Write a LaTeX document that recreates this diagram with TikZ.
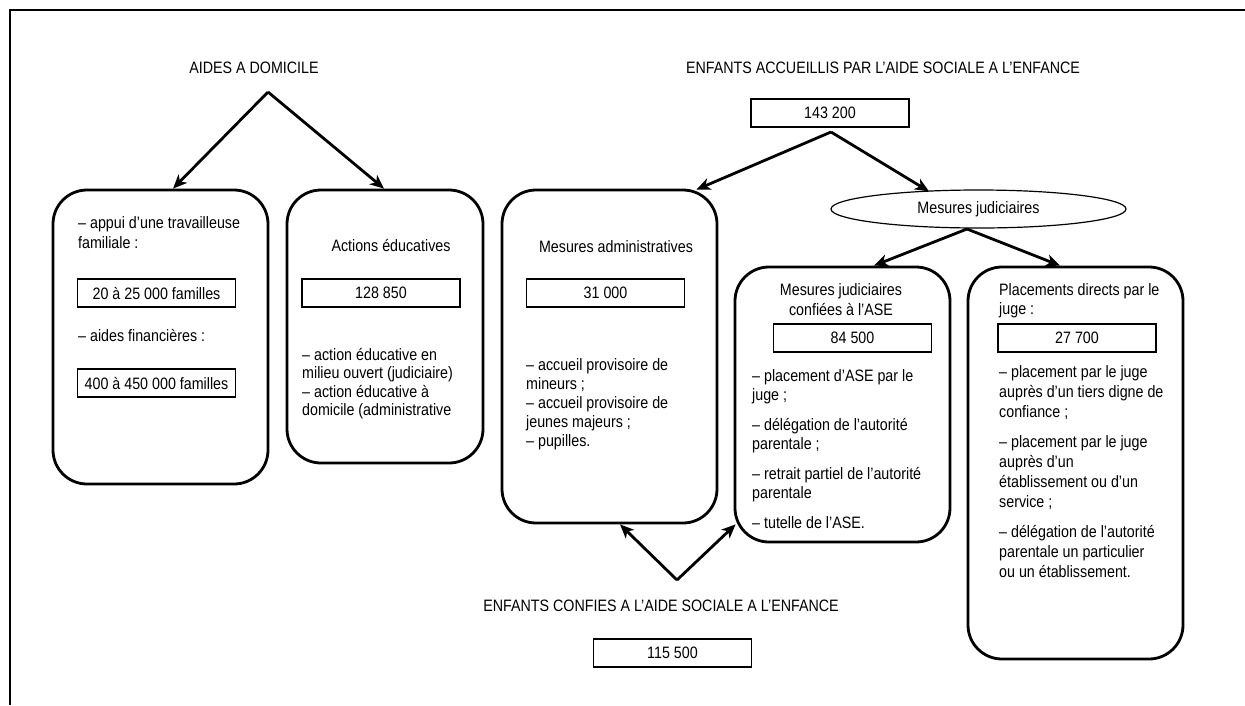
\documentclass[tikz,border=0pt]{standalone}
\usepackage{fontspec}
\setmainfont{Liberation Sans}[FakeStretch=0.865]
\usetikzlibrary{arrows.meta,calc,shapes.geometric}
\begin{document}
\begin{tikzpicture}[x=1pt,y=-1pt,
  txt/.style={inner sep=0pt, font=\fontsize{16.5}{19}\selectfont},
  lft/.style={txt, anchor=base west},
  ctr/.style={txt, anchor=base},
  bigbox/.style={draw, line width=2.8pt, rounded corners=34pt, inner sep=0pt},
  numbox/.style={draw, line width=1.6pt, inner sep=0pt, minimum width=158pt, minimum height=28pt, font=\fontsize{16.5}{19}\selectfont},
  arr/.style={line width=2.8pt, -{Stealth[length=14pt,width=12pt,inset=4pt]}},
]
\useasboundingbox (0,0) rectangle (1245,705);
\draw[line width=2pt] (10,705) -- (10,10) -- (1245,10);

% titles
\node[ctr] (tA) at (254,73) {AIDES A DOMICILE};
\node[ctr] (tB) at (883,73) {ENFANTS ACCUEILLIS PAR L’AIDE SOCIALE A L’ENFANCE};
\node[ctr] (tC) at (661,611) {ENFANTS CONFIES A L’AIDE SOCIALE A L’ENFANCE};
\node[numbox] (n143) at (830,113) {143 200};
\node[numbox] (n115) at (672.5,653) {115 500};

% big boxes
\node[bigbox, minimum width=215pt, minimum height=294pt] (b1) at (160.5,337) {};
\node[bigbox, minimum width=196pt, minimum height=273pt] (b2) at (385,326.5) {};
\node[bigbox, minimum width=215pt, minimum height=333pt] (b3) at (609.5,356.5) {};
\node[bigbox, minimum width=215pt, minimum height=275pt] (b4) at (842.5,404.5) {};
\node[bigbox, minimum width=215pt, minimum height=392pt] (b5) at (1075.5,463) {};
\node[draw, ellipse, line width=1.2pt, minimum width=295pt, minimum height=38pt, txt] (mj) at (978.5,209) {Mesures judiciaires};

% box 1
\node[lft] (b1l1) at (78,228) {– appui d’une travailleuse};
\node[lft] (b1l2) at (78,248) {familiale :};
\node[numbox] (b1n1) at (156.5,293) {20 à 25 000 familles};
\node[lft] (b1l3) at (78,341.5) {– aides financières :};
\node[numbox] (b1n2) at (156.5,383) {400 à 450 000 familles};

% box 2
\node[ctr] (b2t) at (391,251) {Actions éducatives};
\node[numbox] (b2n) at (381,293) {128 850};
\node[lft] (b2l1) at (302,360) {– action éducative en};
\node[lft] (b2l2) at (302,378.5) {milieu ouvert (judiciaire)};
\node[lft] (b2l3) at (302,397) {– action éducative à};
\node[lft] (b2l4) at (302,415.5) {domicile (administrative};

% box 3
\node[ctr] (b3t) at (616,252) {Mesures administratives};
\node[numbox] (b3n) at (605.5,293) {31 000};
\node[lft] (b3l1) at (526,370) {– accueil provisoire de};
\node[lft] (b3l2) at (526,389) {mineurs ;};
\node[lft] (b3l3) at (526,408) {– accueil provisoire de};
\node[lft] (b3l4) at (526,427) {jeunes majeurs ;};
\node[lft] (b3l5) at (526,446) {– pupilles.};

% box 4
\node[ctr] (b4t1) at (841,295) {Mesures judiciaires};
\node[ctr] (b4t2) at (841,315) {confiées à l’ASE};
\node[numbox] (b4n) at (852.5,338) {84 500};
\node[lft] (b4l1) at (752,381) {– placement d’ASE par le};
\node[lft] (b4l2) at (752,400.5) {juge ;};
\node[lft] (b4l3) at (752,430) {– délégation de l’autorité};
\node[lft] (b4l4) at (752,449.5) {parentale ;};
\node[lft] (b4l5) at (752,479) {– retrait partiel de l’autorité};
\node[lft] (b4l6) at (752,498.5) {parentale};
\node[lft] (b4l7) at (752,528) {– tutelle de l’ASE.};

% box 5
\node[lft] (b5t1) at (999,295) {Placements directs par le};
\node[lft] (b5t2) at (999,314) {juge :};
\node[numbox] (b5n) at (1077,338) {27 700};
\node[lft] (b5l1) at (999,377) {– placement par le juge};
\node[lft] (b5l2) at (999,397) {auprès d’un tiers digne de};
\node[lft] (b5l3) at (999,417) {confiance ;};
\node[lft] (b5l4) at (999,447) {– placement par le juge};
\node[lft] (b5l5) at (999,467) {auprès d’un};
\node[lft] (b5l6) at (999,487) {établissement ou d’un};
\node[lft] (b5l7) at (999,507) {service ;};
\node[lft] (b5l8) at (999,537) {– délégation de l’autorité};
\node[lft] (b5l9) at (999,557) {parentale un particulier};
\node[lft] (b5l10) at (999,577) {ou un établissement.};

% arrow origins
\coordinate (apA) at (268,92);
\coordinate (apB) at (831,132);
\coordinate (apC) at (967,229);
\coordinate (apD) at (677,580);

\draw[arr] (apA) -- ($(b1.north)+(12.5,0)$);
\draw[arr] (apA) -- ($(b2.north)+(-1,0)$);
\draw[arr] (apB) -- ($(b3.north east)+(-22,1)$);
\draw[arr] (apB) -- ($(mj.north)+(-49.5,2)$);
\draw[arr] (apC) -- ($(b4.north)+(31.5,0)$);
\draw[arr] (apC) -- ($(b5.north)+(-15.5,0)$);
\draw[arr] (apD) -- ($(b3.south)+(10.5,0)$);
\draw[arr] (apD) -- ($(b4.south west)+(2,-19)$);
\end{tikzpicture}
\end{document}
